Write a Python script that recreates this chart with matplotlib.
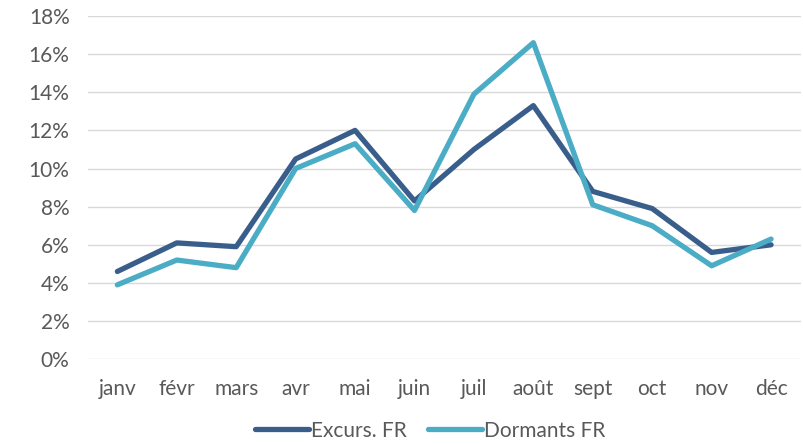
import matplotlib.pyplot as plt
from matplotlib.ticker import PercentFormatter

mois = ["janv", "févr", "mars", "avr", "mai", "juin", "juil", "août", "sept", "oct", "nov", "déc"]
excurs_fr = [4.6, 6.1, 5.9, 10.5, 12.0, 8.3, 11.0, 13.3, 8.8, 7.9, 5.6, 6.0]
dormants_fr = [3.9, 5.2, 4.8, 10.0, 11.3, 7.8, 13.9, 16.6, 8.1, 7.0, 4.9, 6.3]

plt.rcParams['font.family'] = ['Lato', 'DejaVu Sans']

fig = plt.figure(figsize=(8.04, 4.44), dpi=100)
ax = fig.add_axes([0.109, 0.191, 0.887, 0.773])

x = range(len(mois))
ax.plot(x, excurs_fr, color="#3A5E8C", linewidth=3.8, label="Excurs. FR", solid_capstyle="round")
ax.plot(x, dormants_fr, color="#4BACC6", linewidth=3.8, label="Dormants FR", solid_capstyle="round")

ax.set_ylim(0, 18)
ax.set_yticks(range(0, 19, 2))
ax.yaxis.set_major_formatter(PercentFormatter(decimals=0))
ax.set_xlim(-0.5, 11.5)
ax.set_xticks(list(x))
ax.set_xticklabels(mois)
ax.grid(axis="y", color="#D9D9D9", linewidth=1)
ax.set_axisbelow(True)
for s in ax.spines.values():
    s.set_visible(False)
ax.tick_params(length=0, labelsize=15, colors="#595959", pad=14)
ax.tick_params(axis="y", pad=13)

fig.legend(loc="lower center", bbox_to_anchor=(0.535, -0.035), ncol=2, frameon=False,
           fontsize=15, labelcolor="#595959", handlelength=2.6, handletextpad=0.1,
           columnspacing=1.0)

fig.savefig("out.png", dpi=100)
